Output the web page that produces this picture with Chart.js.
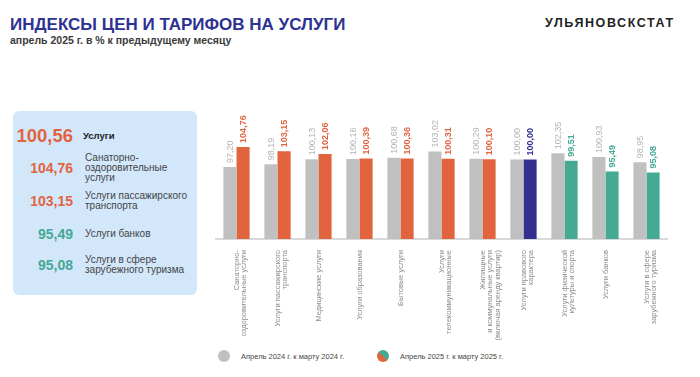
<!DOCTYPE html>
<html lang="ru">
<head>
  <meta charset="UTF-8" />
  <title>Индексы цен и тарифов на услуги</title>
  <script src="https://cdn.jsdelivr.net/npm/chart.js"></script>
  <style>
    body {
      margin: 0;
      width: 700px;
      height: 377px;
      background: #fff;
      font-family: 'Liberation Sans', Arial, sans-serif;
      position: relative;
      overflow: hidden;
    }
    .title {
      position: absolute;
      left: 10px;
      top: 15px;
      font-size: 17px;
      font-weight: bold;
      color: #2d3192;
      white-space: nowrap;
    }
    .subtitle {
      position: absolute;
      left: 10px;
      top: 34px;
      font-size: 10.5px;
      font-weight: bold;
      color: #3a3a3a;
      white-space: nowrap;
    }
    .brand {
      position: absolute;
      left: 545px;
      top: 16px;
      font-size: 12.5px;
      font-weight: bold;
      letter-spacing: 1.6px;
      color: #222;
      white-space: nowrap;
    }
    .panel {
      position: absolute;
      left: 13px;
      top: 111px;
      width: 184px;
      height: 184px;
      background: #d3e7fb;
      border-radius: 6px;
    }
    .row {
      position: absolute;
      left: 0;
      width: 184px;
      display: flex;
      align-items: center;
    }
    .row .num {
      width: 60px;
      text-align: right;
      font-weight: bold;
      font-size: 14px;
    }
    .row .txt {
      margin-left: 12px;
      font-size: 10px;
      line-height: 10px;
      color: #444;
    }
    .chart-box {
      position: absolute;
      left: 200px;
      top: 95px;
      width: 500px;
      height: 250px;
    }
    .legend {
      position: absolute;
      top: 350px;
      font-size: 7.5px;
      color: #444;
      display: flex;
      align-items: center;
    }
    .dot {
      width: 12px;
      height: 12px;
      border-radius: 50%;
      margin-right: 11px;
    }
  </style>
</head>
<body>
  <div class="title">ИНДЕКСЫ ЦЕН И ТАРИФОВ НА УСЛУГИ</div>
  <div class="subtitle">апрель 2025 г. в % к предыдущему месяцу</div>
  <div class="brand">УЛЬЯНОВСКСТАТ</div>

  <div class="panel" id="panel"></div>

  <div class="chart-box"><canvas id="servicesChart"></canvas></div>

  <div class="legend" style="left:218px;"><div class="dot" style="background:#c0c0c0"></div>Апрель 2024 г. к марту 2024 г.</div>
  <div class="legend" style="left:377px;"><div class="dot" style="background:linear-gradient(45deg,#e2643f 50%,#45a994 50%)"></div>Апрель 2025 г. к марту 2025 г.</div>

  <script>
    // categories (multi-line labels)
    const categories = [
      ['Санаторно-', 'оздоровительные услуги'],
      ['Услуги пассажирского', 'транспорта'],
      'Медицинские услуги',
      'Услуги образования',
      'Бытовые услуги',
      ['Услуги', 'телекоммуникационные'],
      ['Жилищные', 'и коммунальные услуги', '(включая аренду квартир)'],
      ['Услуги правового', 'характера'],
      ['Услуги физической', 'культуры и спорта'],
      'Услуги банков',
      ['Услуги в сфере', 'зарубежного туризма']
    ];
    const prevYear = [97.20, 98.19, 100.13, 100.16, 100.68, 103.02, 100.29, 100.00, 102.35, 100.93, 98.95];
    const currYear = [104.76, 103.15, 102.06, 100.39, 100.36, 100.31, 100.10, 100.00, 99.51, 95.49, 95.08];
    const currColors = ['#e2643f', '#e2643f', '#e2643f', '#e2643f', '#e2643f', '#e2643f', '#e2643f',
                        '#33308f', '#45a994', '#45a994', '#45a994'];

    // left panel highlights
    const panelValues = [100.56, 104.76, 103.15, 95.49, 95.08];
    const panelNames = ['Услуги', 'Санаторно-<br>оздоровительные<br>услуги', 'Услуги пассажирского<br>транспорта',
                        'Услуги банков', 'Услуги в сфере<br>зарубежного туризма'];
    const panelColors = ['#e2643f', '#e2643f', '#e2643f', '#45a994', '#45a994'];

    const fmt = v => v.toFixed(2).replace('.', ',');

    const panelTops = [25, 57, 90, 123, 154];
    const panel = document.getElementById('panel');
    panelValues.forEach((v, i) => {
      const row = document.createElement('div');
      row.className = 'row';
      row.style.top = (panelTops[i] - 10) + 'px';
      row.style.height = '20px';
      const big = i === 0;
      row.innerHTML = `<div class="num" style="color:${panelColors[i]};font-size:${big ? 18.5 : 14}px">${fmt(v)}</div>` +
        `<div class="txt" style="${big ? 'font-weight:bold;color:#222;margin-left:10px;font-size:9.5px' : ''}">${panelNames[i]}</div>`;
      panel.appendChild(row);
    });

    // value labels above bars, rotated
    const valueLabels = {
      id: 'valueLabels',
      afterDatasetsDraw(chart) {
        const ctx = chart.ctx;
        chart.data.datasets.forEach((ds, di) => {
          chart.getDatasetMeta(di).data.forEach((bar, i) => {
            ctx.save();
            ctx.translate(bar.x + 0.5, bar.y - 4);
            ctx.rotate(-Math.PI / 2);
            ctx.textAlign = 'left';
            ctx.textBaseline = 'middle';
            if (di === 0) {
              ctx.font = '9px "Liberation Sans", Arial, sans-serif';
              ctx.fillStyle = '#b3b3b3';
            } else {
              ctx.font = 'bold 9px "Liberation Sans", Arial, sans-serif';
              ctx.fillStyle = currColors[i];
            }
            ctx.fillText(fmt(ds.data[i]), 0, 0);
            ctx.restore();
          });
        });
      }
    };

    new Chart(document.getElementById('servicesChart'), {
      type: 'bar',
      data: {
        labels: categories,
        datasets: [
          {
            label: 'Апрель 2024 г. к марту 2024 г.',
            data: prevYear,
            backgroundColor: '#c0c0c0',
            categoryPercentage: 0.64,
            barPercentage: 1
          },
          {
            label: 'Апрель 2025 г. к марту 2025 г.',
            data: currYear,
            backgroundColor: currColors,
            categoryPercentage: 0.64,
            barPercentage: 1
          }
        ]
      },
      options: {
        responsive: true,
        maintainAspectRatio: false,
        animation: false,
        layout: { padding: { top: 38, left: 16, right: 33, bottom: 0 } },
        plugins: {
          legend: { display: false },
          tooltip: { enabled: false }
        },
        scales: {
          x: {
            grid: { display: false },
            border: { color: '#d9d9d9', width: 2 },
            afterFit(scale) {
              scale.height = 106;
              scale.paddingLeft = 0;
              scale.paddingRight = 0;
            },
            ticks: {
              autoSkip: false,
              minRotation: 90,
              maxRotation: 90,
              padding: 3,
              color: '#8c8c8c',
              font: { family: '"Liberation Sans", Arial, sans-serif', size: 7.5, lineHeight: 1.05 }
            }
          },
          y: {
            display: false,
            min: 70,
            max: 110
          }
        }
      },
      plugins: [valueLabels]
    });
  </script>
</body>
</html>
